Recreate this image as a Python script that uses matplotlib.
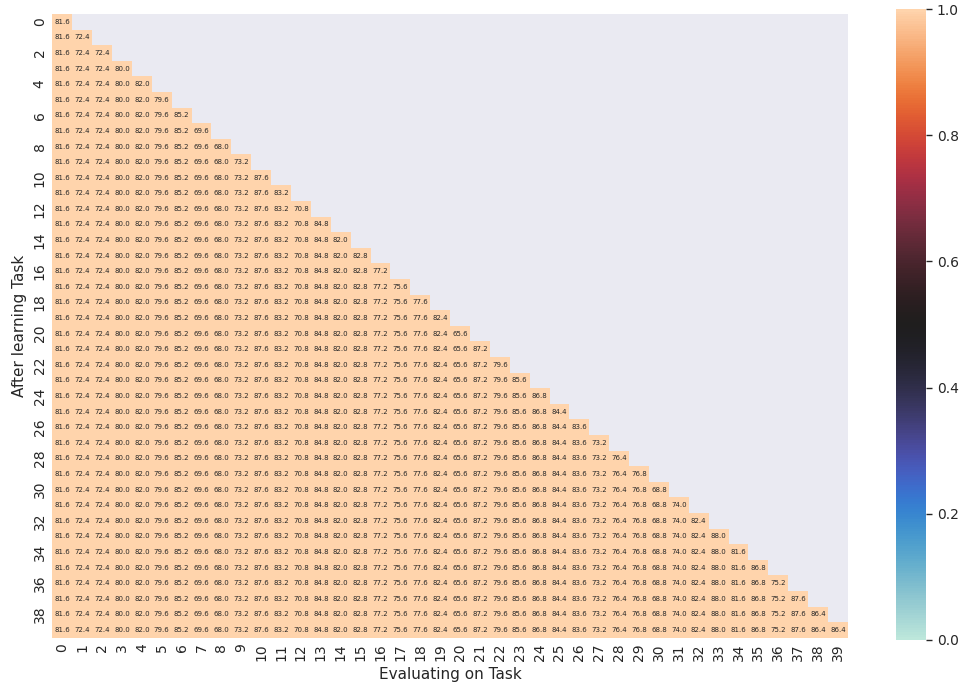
import numpy as np
import matplotlib
matplotlib.use("Agg")
import matplotlib.pyplot as plt
import seaborn as sns

# Diagonal accuracy for each task (column values repeated in every later row)
task_acc = [81.6, 72.4, 72.4, 80.0, 82.0, 79.6, 85.2, 69.6, 68.0, 73.2,
            87.6, 83.2, 70.8, 84.8, 82.0, 82.8, 77.2, 75.6, 77.6, 82.4,
            65.6, 87.2, 79.6, 85.6, 86.8, 84.4, 83.6, 73.2, 76.4, 76.8,
            68.8, 74.0, 82.4, 88.0, 81.6, 86.8, 75.2, 87.6, 86.4, 86.4]
n_tasks = len(task_acc)
x_labels = [str(i) for i in range(n_tasks)]
y_labels = [str(i) if i % 2 == 0 else "" for i in range(n_tasks)]

acc = np.array(task_acc)
matrix = np.tile(acc, (n_tasks, 1))
mask = np.triu(np.ones((n_tasks, n_tasks), dtype=bool), k=1)

sns.set_theme(style="darkgrid")
fig = plt.figure(figsize=(9.69, 6.97), dpi=100)
ax = fig.add_axes([0.054, 0.085, 0.821, 0.895])
cax = fig.add_axes([0.925, 0.082, 0.031, 0.905])

sns.heatmap(matrix, mask=mask, vmin=0, vmax=1, cmap="icefire",
            annot=True, fmt=".1f", annot_kws={"fontsize": 5},
            ax=ax, cbar_ax=cax, xticklabels=x_labels, yticklabels=y_labels)

ax.set_xticks(np.arange(n_tasks) + 0.5)
ax.set_xticklabels(x_labels, rotation=90, fontsize=10)
ax.set_yticks(np.arange(n_tasks) + 0.5)
ax.set_yticklabels(y_labels, rotation=90, fontsize=10, va="center")
ax.tick_params(length=0, pad=4)
ax.grid(False)
ax.set_xlabel("Evaluating on Task", fontsize=11)
ax.set_ylabel("After learning Task", fontsize=11)

cax.grid(False)
cax.tick_params(length=4, width=1, labelsize=10, left=False, right=True)
cax.yaxis.set_ticks([0.0, 0.2, 0.4, 0.6, 0.8, 1.0])
cax.yaxis.set_ticklabels(["0.0", "0.2", "0.4", "0.6", "0.8", "1.0"])

fig.savefig("out.png", dpi=100)
